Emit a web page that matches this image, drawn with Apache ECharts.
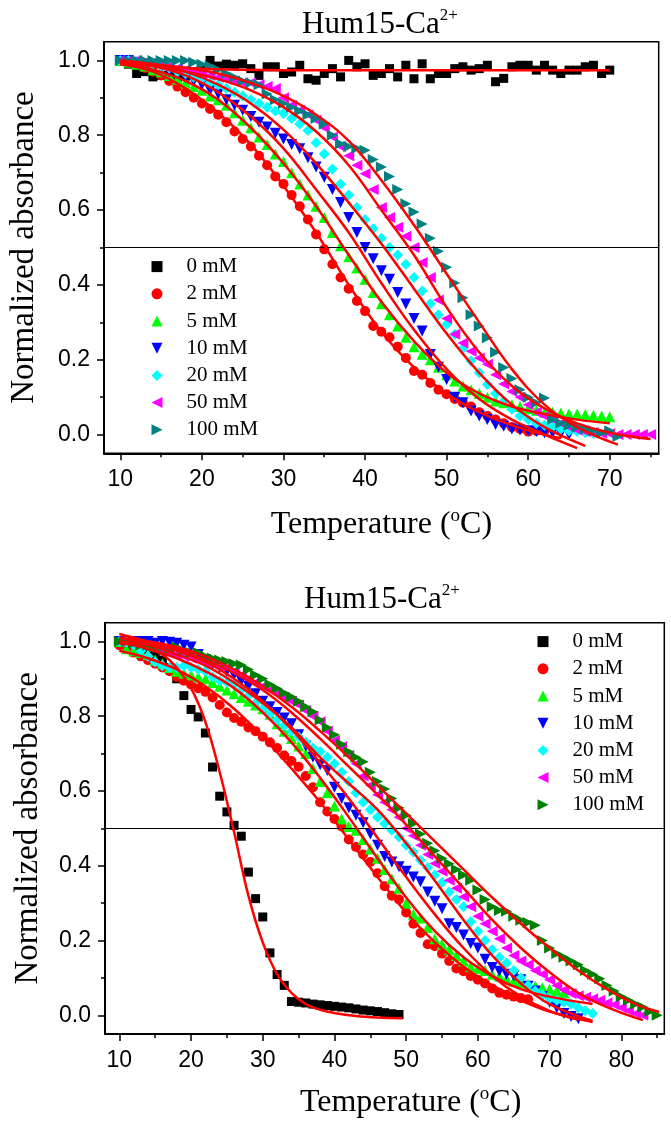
<!DOCTYPE html>
<html><head><meta charset="utf-8">
<script src="https://cdn.jsdelivr.net/npm/echarts@6/dist/echarts.min.js"></script>
<style>html,body{margin:0;padding:0;background:#fff}#c{width:671px;height:1125px}</style>
</head><body><div id="c"></div>
<script>
// ---------- text ----------
const titleMain = 'Hum15-Ca';
const titleSup = '2+';
const xNameA = 'Temperature (', xNameSup = 'o', xNameB = 'C)';
const yName = 'Normalized absorbance';
const seriesLabels = ['0 mM', '2 mM', '5 mM', '10 mM', '20 mM', '50 mM', '100 mM'];
const BOTTOM_TAG = ' [b]';

// ---------- ticks ----------
const xTicksTop = [10, 20, 30, 40, 50, 60, 70];
const xMinorTop = [15, 25, 35, 45, 55, 65, 75];
const xTicksBottom = [10, 20, 30, 40, 50, 60, 70, 80];
const xMinorBottom = [15, 25, 35, 45, 55, 65, 75, 85];
const yTicks = [0, 0.2, 0.4, 0.6, 0.8, 1.0];
const yMinor = [0.1, 0.3, 0.5, 0.7, 0.9];
const refLevel = 0.5;

// ---------- top panel data ----------
const top0 = [[11,.99],[12,.965],[13,.97],[14,.956],[15,.96],[16,.96],[17,.955],[18,.958],[19,.97],[20,.975],[21,1.0],[22,.985],[23,.99],[24,.987],[25,.991],[26,.978],[27,.96],[28,.983],[29,.983],[30,.965],[31,.969],[32,.987],[33,.951],[34,.947],[35,.965],[36,.978],[37,.956],[38,1.0],[39,.983],[40,.991],[41,.96],[42,.965],[43,.978],[44,.956],[45,.987],[46,.951],[47,.991],[48,.951],[49,.965],[50,.965],[51,.978],[52,.983],[53,.974],[54,.978],[55,.987],[56,.943],[57,.952],[58,.983],[59,.987],[60,.987],[61,.974],[62,.987],[63,.974],[64,.965],[65,.974],[66,.974],[67,.983],[68,.987],[69,.965],[70,.974]];
const top2 = [[10,1.0],[11,.995],[12,.99],[13,.98],[14,.97],[15,.96],[16,.945],[17,.93],[18,.915],[19,.9],[20,.885],[21,.87],[22,.855],[23,.835],[24,.81],[25,.79],[26,.77],[27,.745],[28,.72],[29,.69],[30,.67],[31,.64],[32,.61],[33,.575],[34,.535],[35,.495],[36,.455],[37,.42],[38,.39],[39,.357],[40,.33],[41,.29],[42,.275],[43,.26],[44,.235],[45,.205],[46,.17],[47,.16],[48,.138],[49,.12],[50,.108],[51,.095],[52,.085],[53,.075],[54,.06],[55,.05],[56,.04],[57,.03],[58,.02],[59,.015],[60,.008],[61,.01],[62,.01]];
const top5 = [[10,1],[11,.995],[12,.99],[13,.985],[14,.975],[15,.97],[16,.96],[17,.95],[18,.94],[19,.93],[20,.92],[21,.905],[22,.895],[23,.88],[24,.86],[25,.84],[26,.82],[27,.795],[28,.775],[29,.75],[30,.73],[31,.7],[32,.67],[33,.64],[34,.61],[35,.58],[36,.54],[37,.505],[38,.475],[39,.445],[40,.415],[41,.38],[42,.35],[43,.32],[44,.29],[45,.26],[46,.235],[47,.215],[48,.2],[49,.18],[50,.16],[51,.143],[52,.13],[53,.12],[54,.11],[55,.1],[56,.09],[57,.085],[58,.08],[59,.075],[60,.07],[61,.065],[62,.06],[63,.06],[64,.058],[65,.056],[66,.055],[67,.054],[68,.052],[69,.05],[70,.048]];
const top10 = [[10,1],[11,1],[12,.995],[13,.99],[14,.985],[15,.98],[16,.97],[17,.965],[18,.955],[19,.945],[20,.935],[21,.92],[22,.91],[23,.895],[24,.88],[25,.867],[26,.85],[27,.835],[28,.822],[29,.805],[30,.79],[31,.775],[32,.764],[33,.74],[34,.715],[35,.688],[36,.655],[37,.62],[38,.58],[39,.54],[40,.5],[41,.47],[42,.438],[43,.415],[44,.38],[45,.349],[46,.31],[47,.277],[48,.214],[49,.18],[50,.147],[51,.1],[52,.085],[53,.063],[54,.05],[55,.04],[56,.027],[57,.022],[58,.015],[59,.012],[60,.01],[61,.008],[62,.005],[63,.004],[64,.002],[65,0]];
const top20 = [[10,1],[11,1],[12,.995],[13,.99],[14,.99],[15,.985],[16,.98],[17,.97],[18,.965],[19,.955],[20,.95],[21,.94],[22,.935],[23,.925],[24,.915],[25,.905],[26,.895],[27,.885],[28,.875],[29,.865],[30,.858],[31,.845],[32,.83],[33,.813],[34,.78],[35,.75],[36,.71],[37,.67],[38,.64],[39,.607],[40,.575],[41,.55],[42,.525],[43,.5],[44,.48],[45,.455],[46,.42],[47,.384],[48,.35],[49,.32],[50,.295],[51,.268],[52,.23],[53,.197],[54,.165],[55,.134],[56,.11],[57,.09],[58,.068],[59,.05],[60,.04],[61,.03],[62,.025],[63,.02],[64,.015],[65,.01],[66,.008],[67,.005],[68,.003]];
const top50 = [[10,1],[11,1],[12,1],[13,.995],[14,.995],[15,.99],[16,.985],[17,.98],[18,.975],[19,.97],[20,.965],[21,.96],[22,.955],[23,.95],[24,.945],[25,.94],[26,.94],[27,.935],[28,.93],[29,.925],[30,.9],[31,.88],[32,.867],[33,.855],[34,.84],[35,.82],[36,.795],[37,.77],[38,.745],[39,.72],[40,.697],[41,.655],[42,.607],[43,.58],[44,.554],[45,.53],[46,.5],[47,.46],[48,.42],[49,.36],[50,.31],[51,.268],[52,.245],[53,.223],[54,.205],[55,.188],[56,.16],[57,.135],[58,.115],[59,.1],[60,.08],[61,.06],[62,.05],[63,.04],[64,.03],[65,.02],[66,.012],[67,.008],[68,.005],[69,.003],[70,.002],[71,0],[72,0],[73,0],[74,0],[75,0]];
const top100 = [[10,1],[11,1],[12,1],[13,1],[14,1],[15,1],[16,1],[17,1],[18,1],[19,.995],[20,.99],[21,.985],[22,.975],[23,.965],[24,.955],[25,.945],[26,.94],[27,.935],[28,.91],[29,.895],[30,.885],[31,.875],[32,.865],[33,.855],[34,.845],[35,.83],[36,.8],[37,.777],[38,.77],[39,.765],[40,.76],[41,.735],[42,.715],[43,.69],[44,.655],[45,.617],[46,.595],[47,.563],[48,.525],[49,.49],[50,.447],[51,.405],[52,.366],[53,.32],[54,.29],[55,.259],[56,.22],[57,.179],[58,.15],[59,.12],[60,.1],[61,.085],[62,.098],[63,.04],[64,.03],[65,.025],[66,.02],[67,.015],[68,.01],[69,.005],[70,.01],[71,-.005]];

const fitTop0 = [[10,.995],[15,.985],[20,.978],[25,.975],[30,.974],[40,.974],[50,.974],[60,.974],[70,.974]];
const fitTop2 = [[10,.99],[14,.97],[18,.925],[22,.86],[26,.775],[30,.665],[34,.54],[38,.4],[42,.275],[46,.18],[50,.11],[54,.06],[58,.025],[62,0],[64,-.01]];
const fitTop5 = [[10,.995],[14,.975],[18,.945],[22,.895],[26,.82],[30,.725],[34,.61],[38,.48],[42,.355],[46,.25],[50,.165],[54,.11],[58,.075],[62,.055],[66,.04],[70,.03]];
const fitTop10 = [[10,1],[14,.985],[18,.96],[22,.915],[26,.85],[30,.765],[34,.655],[38,.54],[42,.405],[46,.28],[50,.175],[54,.095],[58,.04],[62,0],[66,-.036]];
const fitTop20 = [[10,1],[14,.99],[18,.97],[22,.935],[26,.885],[30,.815],[34,.725],[38,.62],[42,.51],[46,.39],[50,.27],[54,.165],[58,.08],[62,.02],[67,-.03]];
const fitTop50 = [[10,.99],[14,.985],[18,.97],[22,.95],[26,.92],[30,.875],[34,.81],[38,.72],[42,.6],[46,.48],[50,.34],[54,.22],[58,.13],[62,.07],[66,.03],[70,.005],[75,-.012]];
const fitTop100 = [[10,.995],[14,.99],[18,.98],[22,.965],[26,.94],[30,.905],[34,.855],[38,.785],[42,.68],[46,.56],[50,.43],[54,.3],[58,.175],[62,.08],[66,.02],[71,-.027]];

// ---------- bottom panel data ----------
const bot0 = [[10,1],[11,.995],[12,.99],[13,.985],[14,.975],[15,.965],[16,.95],[17,.93],[18,.9],[19,.855],[20,.818],[21,.798],[22,.755],[23,.664],[24,.586],[25,.544],[26,.508],[27,.479],[28,.383],[29,.312],[30,.263],[31,.167],[32,.109],[33,.08],[34,.037],[35,.035],[36,.033],[37,.03],[38,.028],[39,.026],[40,.024],[41,.022],[42,.02],[43,.017],[44,.014],[45,.012],[46,.01],[47,.007],[48,.004],[49,.002]];
const bot2 = [[10,.99],[11,.985],[12,.97],[13,.96],[14,.95],[15,.94],[16,.93],[17,.92],[18,.905],[19,.895],[20,.885],[21,.875],[22,.865],[23,.85],[24,.83],[25,.81],[26,.795],[27,.785],[28,.77],[29,.76],[30,.745],[31,.73],[32,.715],[33,.695],[34,.68],[35,.665],[36,.64],[37,.61],[38,.57],[39,.545],[40,.525],[41,.505],[42,.47],[43,.45],[44,.43],[45,.41],[46,.38],[47,.345],[48,.32],[49,.31],[50,.275],[51,.245],[52,.22],[53,.19],[54,.185],[55,.165],[56,.145],[57,.125],[58,.118],[59,.105],[60,.095],[61,.085],[62,.072],[63,.06],[64,.055],[65,.05],[66,.046],[67,.043]];
const bot5 = [[10,1],[11,.98],[12,.975],[13,.97],[14,.965],[15,.95],[16,.94],[17,.93],[18,.92],[19,.915],[20,.91],[21,.905],[22,.9],[23,.89],[24,.88],[25,.87],[26,.86],[27,.85],[28,.84],[29,.83],[30,.82],[31,.805],[32,.78],[33,.76],[34,.74],[35,.72],[36,.7],[37,.66],[38,.625],[39,.595],[40,.56],[41,.525],[42,.505],[43,.495],[44,.47],[45,.445],[46,.42],[47,.39],[48,.365],[49,.34],[50,.3],[51,.27],[52,.26],[53,.235],[54,.205],[55,.19],[56,.175],[57,.16],[58,.145],[59,.13],[60,.125],[61,.12],[62,.11],[63,.105],[64,.097],[65,.092],[66,.088],[67,.083],[68,.078],[69,.074],[70,.07],[71,.066],[72,.06]];
const bot10 = [[10,1],[11,1],[12,1],[13,1],[14,1],[15,.995],[16,1],[17,.998],[18,.995],[19,.99],[20,.985],[21,.965],[22,.95],[23,.94],[24,.93],[25,.92],[26,.91],[27,.895],[28,.88],[29,.86],[30,.84],[31,.825],[32,.81],[33,.795],[34,.78],[35,.75],[36,.72],[37,.69],[38,.67],[39,.655],[40,.61],[41,.58],[42,.555],[43,.535],[44,.515],[45,.485],[46,.455],[47,.425],[48,.41],[49,.397],[50,.385],[51,.37],[52,.357],[53,.33],[54,.305],[55,.285],[56,.245],[57,.235],[58,.215],[59,.192],[60,.18],[61,.15],[62,.128],[63,.118],[64,.11],[65,.105],[66,.095],[67,.078],[68,.065],[69,.05],[70,.035],[71,.02],[72,.005],[73,-.003],[74,-.009]];
const bot20 = [[10,1],[11,1],[12,.99],[13,.975],[14,.96],[15,.945],[16,.935],[17,.93],[18,.93],[19,.935],[20,.93],[21,.925],[22,.92],[23,.905],[24,.895],[25,.89],[26,.885],[27,.87],[28,.855],[29,.835],[30,.82],[31,.805],[32,.79],[33,.775],[34,.76],[35,.745],[36,.73],[37,.715],[38,.705],[39,.69],[40,.673],[41,.65],[42,.625],[43,.595],[44,.57],[45,.55],[46,.53],[47,.513],[48,.495],[49,.477],[50,.455],[51,.437],[52,.415],[53,.395],[54,.375],[55,.355],[56,.33],[57,.31],[58,.29],[59,.25],[60,.225],[61,.2],[62,.175],[63,.155],[64,.14],[65,.12],[66,.1],[67,.08],[68,.065],[69,.055],[70,.045],[71,.04],[72,.035],[73,.03],[74,.02],[75,.012],[76,.005]];
const bot50 = [[10,1],[11,1],[12,.995],[13,.99],[14,.985],[15,.98],[16,.975],[17,.97],[18,.965],[19,.96],[20,.955],[21,.95],[22,.945],[23,.94],[24,.935],[25,.93],[26,.92],[27,.91],[28,.9],[29,.89],[30,.88],[31,.87],[32,.86],[33,.85],[34,.84],[35,.83],[36,.815],[37,.8],[38,.785],[39,.76],[40,.735],[41,.718],[42,.695],[43,.673],[44,.64],[45,.615],[46,.59],[47,.57],[48,.55],[49,.53],[50,.5],[51,.48],[52,.455],[53,.43],[54,.406],[55,.385],[56,.361],[57,.34],[58,.317],[59,.29],[60,.265],[61,.245],[62,.225],[63,.205],[64,.18],[65,.16],[66,.145],[67,.135],[68,.12],[69,.11],[70,.095],[71,.08],[72,.068],[73,.058],[74,.052],[75,.048],[76,.044],[77,.04],[78,.033],[79,.028],[80,.02],[81,.012],[82,.005],[83,0]];
const bot100 = [[10,1],[11,1],[12,.995],[13,.99],[14,.99],[15,.985],[16,.985],[17,.98],[18,.985],[19,.975],[20,.97],[21,.97],[22,.96],[23,.955],[24,.95],[25,.946],[26,.94],[27,.937],[28,.925],[29,.91],[30,.9],[31,.885],[32,.874],[33,.862],[34,.852],[35,.84],[36,.825],[37,.812],[38,.79],[39,.77],[40,.75],[41,.725],[42,.705],[43,.69],[44,.678],[45,.65],[46,.625],[47,.605],[48,.58],[49,.555],[50,.535],[51,.513],[52,.485],[53,.46],[54,.44],[55,.42],[56,.405],[57,.39],[58,.375],[59,.361],[60,.335],[61,.31],[62,.29],[63,.28],[64,.278],[65,.265],[66,.254],[67,.248],[68,.241],[69,.2],[70,.18],[71,.165],[72,.155],[73,.145],[74,.135],[75,.12],[76,.11],[77,.098],[78,.08],[79,.065],[80,.05],[81,.04],[82,.03],[83,.022],[84,.01],[85,0]];

const fitBot0 = [[10,.995],[12,.99],[14,.98],[16,.965],[18,.93],[20,.875],[22,.785],[24,.65],[26,.49],[28,.32],[30,.195],[32,.11],[34,.06],[36,.03],[38,.015],[40,.006],[43,-.002],[46,-.006],[49.5,-.008]];
const fitBot2 = [[10,.975],[14,.955],[18,.925],[22,.88],[26,.82],[30,.745],[34,.66],[38,.57],[42,.47],[46,.37],[50,.275],[54,.195],[58,.13],[62,.08],[66,.04],[70,.01],[76,-.018]];
const fitBot5 = [[10,1],[14,.98],[18,.955],[22,.92],[26,.875],[30,.81],[34,.73],[38,.635],[42,.53],[46,.42],[50,.315],[54,.225],[58,.155],[62,.105],[66,.07],[70,.05],[76,.03]];
const fitBot10 = [[10,1.01],[14,.995],[18,.975],[22,.945],[26,.9],[30,.84],[34,.765],[38,.675],[42,.58],[46,.475],[50,.37],[54,.27],[58,.18],[62,.105],[66,.05],[70,.012],[74,-.012]];
const fitBot20 = [[10,1],[14,.99],[18,.965],[22,.935],[26,.89],[30,.835],[34,.77],[38,.69],[42,.62],[46,.55],[50,.46],[54,.36],[58,.255],[62,.16],[66,.085],[70,.03],[76,-.015]];
const fitBot50 = [[10,1.02],[14,1.0],[18,.98],[22,.95],[26,.915],[30,.87],[34,.81],[38,.74],[42,.665],[46,.59],[50,.51],[54,.425],[58,.34],[62,.255],[66,.18],[70,.115],[74,.06],[78,.022],[83,-.013]];
const fitBot100 = [[10,1.01],[14,1.0],[18,.985],[22,.96],[26,.925],[30,.88],[34,.825],[38,.76],[42,.69],[46,.615],[50,.54],[54,.465],[58,.39],[62,.315],[66,.245],[70,.18],[74,.12],[78,.07],[82,.03],[85.3,.009]];

const topData = [top0, top2, top5, top10, top20, top50, top100];
const topFits = [fitTop0, fitTop2, fitTop5, fitTop10, fitTop20, fitTop50, fitTop100];
const botData = [bot0, bot2, bot5, bot10, bot20, bot50, bot100];
const botFits = [fitBot0, fitBot2, fitBot5, fitBot10, fitBot20, fitBot50, fitBot100];

// ---------- styles ----------
const colorsTop = ['#000000', '#ff0000', '#00ff00', '#0000ff', '#00ffff', '#ff00ff', '#008080'];
const colorsBot = ['#000000', '#ff0000', '#00ff00', '#0000ff', '#00ffff', '#ff00ff', '#008000'];
const symbols = ['rect', 'circle', 'triangle', 'triangle', 'diamond', 'triangle', 'triangle'];
const symbolRot = [0, 0, 0, 180, 0, 90, -90];
const legendIcons = ['rect', 'circle', 'triangle', 'path://M0,0 L10,0 L5,10 Z', 'diamond', 'path://M10,0 L10,10 L0,5 Z', 'path://M0,0 L0,10 L10,5 Z'];
const symbolSizes = [9, 10, 11, 11, 11, 11, 11];
const fitColor = '#ff0000';
const serif = 'Liberation Serif';
const sans = 'Liberation Sans';

function axisPair(grid, min, max, major, minor, isX, name, nameGap, namePad) {
  const pos = isX ? 'bottom' : 'left';
  const common = { type: 'value', gridIndex: grid, min: min, max: max, position: pos, splitLine: { show: false } };
  const main = Object.assign({}, common, {
    axisLine: { show: true, onZero: false, lineStyle: { color: '#000', width: 2 } },
    axisTick: { show: true, inside: false, length: 7, customValues: major, lineStyle: { color: '#000', width: 1.5 } },
    axisLabel: { show: true, customValues: major, color: '#000', fontFamily: sans, fontSize: 23,
      margin: isX ? 15 : 14, formatter: isX ? (v => String(v)) : (v => v.toFixed(1)) },
    name: name, nameLocation: 'middle', nameGap: nameGap
  });
  if (isX) {
    main.nameTextStyle = { padding: namePad, rich: {
      n: { fontFamily: serif, fontSize: 32, color: '#000', lineHeight: 36 },
      s: { fontFamily: serif, fontSize: 19, color: '#000', lineHeight: 30, verticalAlign: 'top' } } };
  } else {
    main.nameRotate = 90;
    main.nameTextStyle = { fontFamily: serif, fontSize: 33, color: '#000', padding: namePad };
  }
  const minorAx = Object.assign({}, common, {
    axisLine: { show: false, onZero: false },
    axisTick: { show: true, inside: false, length: 4, customValues: minor, lineStyle: { color: '#000', width: 1.5 } },
    axisLabel: { show: false }
  });
  return [main, minorAx];
}

const xNameRich = '{n|' + xNameA + '}{s|' + xNameSup + '}{n|' + xNameB + '}';
const xAxes = [].concat(
  axisPair(0, 8, 76, xTicksTop, xMinorTop, true, xNameRich, 53, [0, 0, 0, 0]),
  axisPair(1, 8, 86, xTicksBottom, xMinorBottom, true, xNameRich, 51, [0, 0, 0, 52])
);
const yAxes = [].concat(
  axisPair(0, -0.05, 1.05, yTicks, yMinor, false, yName, 63, [0, 0, 0, 0]),
  axisPair(1, -0.05, 1.05, yTicks, yMinor, false, yName, 60, [0, 0, 0, 0])
);

function panelSeries(panel, dataSets, fits, colors, tag) {
  const out = [];
  dataSets.forEach((d, i) => {
    const s = {
      type: 'scatter', name: seriesLabels[i] + tag,
      xAxisIndex: panel * 2, yAxisIndex: panel * 2,
      data: d, symbol: symbols[i], symbolRotate: symbolRot[i], symbolSize: symbolSizes[i],
      itemStyle: { color: colors[i], opacity: 1 }, z: 2 + i * 0.01
    };
    if (i === 0) {
      s.markLine = { silent: true, symbol: 'none', animation: false, label: { show: false },
        lineStyle: { color: '#000', width: 1, type: 'solid' }, data: [{ yAxis: refLevel }] };
    }
    out.push(s);
  });
  fits.forEach((f, i) => {
    out.push({
      type: 'line', name: 'fit ' + seriesLabels[i] + tag,
      xAxisIndex: panel * 2, yAxisIndex: panel * 2,
      data: f, smooth: 0.4, showSymbol: false, symbol: 'none',
      lineStyle: { color: fitColor, width: 2.5 }, itemStyle: { color: fitColor }, z: 5
    });
  });
  return out;
}

function legendCfg(tag, left, top) {
  return {
    data: seriesLabels.map((l, i) => ({ name: l + tag, icon: legendIcons[i] })),
    orient: 'vertical', left: left, top: top,
    itemWidth: 11, itemHeight: 11, itemGap: 0, padding: 0, selectedMode: false,
    textStyle: { fontFamily: serif, fontSize: 21, color: '#000', lineHeight: 27.2, padding: [0, 0, 0, 19] },
    formatter: n => n.replace(BOTTOM_TAG, '')
  };
}

function titleCfg(left, top) {
  return {
    text: '{a|' + titleMain + '}{b|' + titleSup + '}', left: left, top: top, padding: 0,
    textStyle: { fontWeight: 'normal', rich: {
      a: { fontFamily: serif, fontSize: 31, fontWeight: 'normal', color: '#000', lineHeight: 36 },
      b: { fontFamily: serif, fontSize: 17, fontWeight: 'normal', color: '#000', lineHeight: 30, verticalAlign: 'top' } } }
  };
}

const option = {
  animation: false,
  backgroundColor: '#ffffff',
  title: [titleCfg(302, 7), titleCfg(304, 582)],
  legend: [legendCfg('', 151.5, 253), legendCfg(BOTTOM_TAG, 537.5, 628)],
  grid: [
    { left: 99, right: 12.3, top: 41.7, height: 411.6, show: true, borderColor: '#000', borderWidth: 1.5, backgroundColor: 'transparent' },
    { left: 105, right: 6.7, top: 622.7, height: 411.3, show: true, borderColor: '#000', borderWidth: 1.5, backgroundColor: 'transparent' }
  ],
  xAxis: xAxes,
  yAxis: yAxes,
  series: [].concat(
    panelSeries(0, topData, topFits, colorsTop, ''),
    panelSeries(1, botData, botFits, colorsBot, BOTTOM_TAG)
  )
};

const chart = echarts.init(document.getElementById('c'), null, { renderer: 'canvas' });
chart.setOption(option);
</script>
</body></html>
